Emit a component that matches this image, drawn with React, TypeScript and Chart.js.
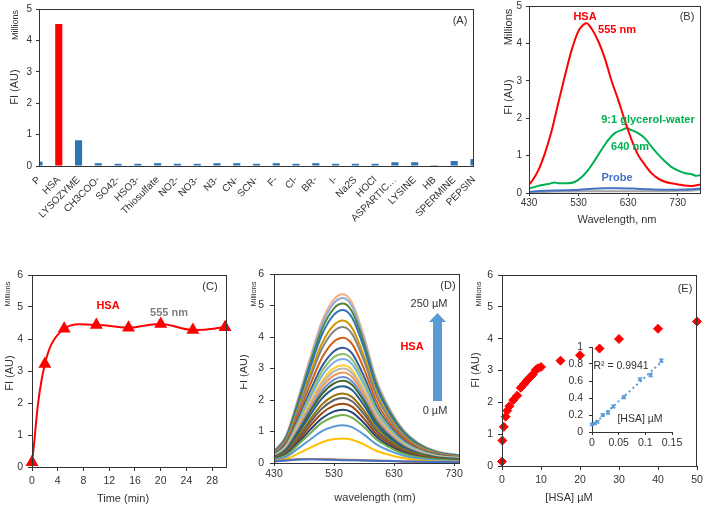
import React, { useEffect, useRef } from "react";
import { Chart, registerables } from "chart.js";
Chart.register(...registerables);

const FONT = "'Liberation Sans', Arial, Helvetica, sans-serif";
Chart.defaults.font.family = FONT;
const INK = "#333333";

// ---------- Panel A data ----------
const aCategories = ["P", "HSA", "LYSOZYME", "CH3COO-", "SO42-", "HSO3-", "Thiosulfate", "NO2-", "NO3-", "N3-", "CN-", "SCN-", "F-", "Cl-", "BR-", "I-", "Na2S", "HOCl", "ASPARTIC…", "LYSINE", "HB", "SPERMINE", "PEPSIN"];
const aValues = [0.14, 4.52, 0.82, 0.09, 0.07, 0.07, 0.09, 0.07, 0.07, 0.09, 0.09, 0.07, 0.09, 0.07, 0.09, 0.07, 0.07, 0.07, 0.12, 0.12, 0.03, 0.16, 0.22];
const aYTicks = [0, 1, 2, 3, 4, 5];

// ---------- Panel B data ----------
const bHsaWave = [430, 435, 449, 462, 476, 489, 502, 516, 529, 539, 546, 556, 570, 583, 596, 610, 623, 630, 637, 650, 664, 677, 690, 704, 717, 731, 744, 758, 776];
const bHsa = [0.23, 0.3, 0.61, 1.06, 1.68, 2.4, 3.11, 3.82, 4.31, 4.49, 4.54, 4.4, 4.05, 3.6, 3.02, 2.49, 1.95, 1.68, 1.42, 1.02, 0.75, 0.53, 0.39, 0.3, 0.26, 0.23, 0.2, 0.19, 0.23];
const bGlyWave = [430, 449, 469, 482, 489, 509, 523, 536, 549, 563, 576, 590, 603, 617, 627, 637, 650, 664, 677, 690, 704, 717, 731, 745, 758, 768, 776];
const bGly = [0.12, 0.19, 0.24, 0.28, 0.26, 0.26, 0.3, 0.42, 0.61, 0.88, 1.15, 1.42, 1.6, 1.68, 1.73, 1.68, 1.6, 1.46, 1.24, 1.04, 0.85, 0.7, 0.6, 0.53, 0.5, 0.46, 0.48];
const bProbeWave = [430, 460, 490, 520, 550, 580, 610, 640, 670, 700, 730, 760, 776];
const bProbe = [0.03, 0.06, 0.07, 0.08, 0.11, 0.13, 0.13, 0.12, 0.1, 0.09, 0.09, 0.1, 0.12];
const bBlank = [0.02, 0.03, 0.04, 0.04, 0.05, 0.05, 0.05, 0.05, 0.05, 0.05, 0.06, 0.07, 0.09];
const bXTicks = [430, 530, 630, 730];
const bYTicks = [0, 1, 2, 3, 4, 5];

// ---------- Panel C data ----------
const cTime = [0, 2, 5, 10, 15, 20, 25, 30];
const cFI = [0.15, 3.22, 4.32, 4.44, 4.35, 4.47, 4.28, 4.37];
const cXTicks = [0, 4, 8, 12, 16, 20, 24, 28];
const cYTicks = [0, 1, 2, 3, 4, 5, 6];

// ---------- Panel D data ----------
const dWave = [430, 450, 470, 490, 510, 530, 545, 560, 580, 600, 620, 645, 670, 700, 740];
const dCurves = [
  [0.05, 0.08, 0.11, 0.12, 0.11, 0.1, 0.09, 0.09, 0.08, 0.07, 0.06, 0.05, 0.04, 0.03, 0.02],
  [0.06, 0.09, 0.12, 0.13, 0.12, 0.11, 0.1, 0.1, 0.09, 0.08, 0.07, 0.05, 0.04, 0.03, 0.03],
  [0.05, 0.09, 0.12, 0.13, 0.12, 0.11, 0.1, 0.09, 0.08, 0.07, 0.06, 0.05, 0.04, 0.03, 0.02],
  [0.05, 0.12, 0.3, 0.48, 0.66, 0.76, 0.78, 0.74, 0.59, 0.39, 0.27, 0.16, 0.09, 0.05, 0.04],
  [0.08, 0.19, 0.46, 0.74, 1.01, 1.16, 1.2, 1.14, 0.9, 0.6, 0.41, 0.24, 0.14, 0.08, 0.05],
  [0.11, 0.24, 0.58, 0.94, 1.28, 1.47, 1.52, 1.44, 1.14, 0.76, 0.52, 0.3, 0.18, 0.11, 0.07],
  [0.12, 0.27, 0.64, 1.05, 1.42, 1.64, 1.69, 1.61, 1.27, 0.85, 0.57, 0.34, 0.2, 0.12, 0.08],
  [0.13, 0.3, 0.71, 1.17, 1.58, 1.82, 1.88, 1.79, 1.41, 0.94, 0.64, 0.38, 0.23, 0.13, 0.08],
  [0.14, 0.33, 0.78, 1.28, 1.73, 2.0, 2.06, 1.96, 1.55, 1.03, 0.7, 0.41, 0.25, 0.14, 0.09],
  [0.15, 0.35, 0.84, 1.37, 1.86, 2.14, 2.21, 2.1, 1.66, 1.11, 0.75, 0.44, 0.27, 0.15, 0.1],
  [0.17, 0.39, 0.93, 1.51, 2.05, 2.37, 2.44, 2.32, 1.83, 1.22, 0.83, 0.49, 0.29, 0.17, 0.11],
  [0.18, 0.42, 0.99, 1.62, 2.19, 2.53, 2.61, 2.48, 1.96, 1.31, 0.89, 0.52, 0.31, 0.18, 0.12],
  [0.19, 0.44, 1.04, 1.69, 2.29, 2.65, 2.73, 2.59, 2.05, 1.37, 0.93, 0.55, 0.33, 0.19, 0.12],
  [0.2, 0.46, 1.09, 1.78, 2.41, 2.78, 2.87, 2.73, 2.15, 1.44, 0.98, 0.57, 0.34, 0.2, 0.13],
  [0.21, 0.48, 1.14, 1.86, 2.52, 2.91, 3.0, 2.85, 2.25, 1.5, 1.02, 0.6, 0.36, 0.21, 0.14],
  [0.22, 0.5, 1.18, 1.92, 2.6, 3.01, 3.1, 2.95, 2.33, 1.55, 1.05, 0.62, 0.37, 0.22, 0.14],
  [0.23, 0.53, 1.25, 2.05, 2.77, 3.2, 3.3, 3.14, 2.48, 1.65, 1.12, 0.66, 0.4, 0.23, 0.15],
  [0.24, 0.55, 1.31, 2.15, 2.91, 3.36, 3.46, 3.29, 2.6, 1.73, 1.18, 0.69, 0.42, 0.24, 0.16],
  [0.26, 0.59, 1.39, 2.27, 3.07, 3.55, 3.66, 3.48, 2.75, 1.83, 1.24, 0.73, 0.44, 0.26, 0.16],
  [0.28, 0.64, 1.51, 2.47, 3.34, 3.86, 3.98, 3.78, 2.99, 1.99, 1.35, 0.8, 0.48, 0.28, 0.18],
  [0.3, 0.69, 1.64, 2.68, 3.63, 4.19, 4.32, 4.1, 3.24, 2.16, 1.47, 0.86, 0.52, 0.3, 0.19],
  [0.32, 0.72, 1.72, 2.8, 3.8, 4.38, 4.52, 4.29, 3.39, 2.26, 1.54, 0.9, 0.54, 0.32, 0.2],
  [0.34, 0.78, 1.85, 3.01, 4.08, 4.71, 4.86, 4.62, 3.65, 2.43, 1.65, 0.97, 0.58, 0.34, 0.22],
  [0.35, 0.81, 1.92, 3.14, 4.25, 4.91, 5.06, 4.81, 3.8, 2.53, 1.72, 1.01, 0.61, 0.35, 0.23],
  [0.37, 0.84, 1.99, 3.25, 4.4, 5.08, 5.24, 4.98, 3.93, 2.62, 1.78, 1.05, 0.63, 0.37, 0.24],
  [0.38, 0.86, 2.04, 3.32, 4.5, 5.2, 5.36, 5.09, 4.02, 2.68, 1.82, 1.07, 0.64, 0.38, 0.24],
];
const dXTicks = [430, 530, 630, 730];
const dYTicks = [0, 1, 2, 3, 4, 5, 6];

// ---------- Panel E data ----------
const eConc = [0, 0.1, 0.45, 0.94, 1.37, 1.9, 2.9, 3.9, 4.8, 5.7, 6.3, 6.8, 7.4, 7.9, 8.7, 9.2, 10, 15, 20, 25, 30, 40, 50];
const eFI = [0.14, 0.8, 1.23, 1.55, 1.74, 1.88, 2.07, 2.21, 2.46, 2.58, 2.67, 2.74, 2.81, 2.88, 3.02, 3.07, 3.11, 3.31, 3.48, 3.69, 3.99, 4.31, 4.54];
const eXTicks = [0, 10, 20, 30, 40, 50];
const eYTicks = [0, 1, 2, 3, 4, 5, 6];

// ---------- Inset data ----------
const iConc = [0, 0.005, 0.01, 0.02, 0.03, 0.04, 0.06, 0.09, 0.11, 0.13];
const iFI = [0.09, 0.1, 0.12, 0.2, 0.23, 0.3, 0.41, 0.62, 0.67, 0.84];
const iErr = [0.01, 0.01, 0.012, 0.015, 0.02, 0.015, 0.018, 0.015, 0.02, 0.018];
const iXTicks = [0, 0.05, 0.1, 0.15];
const iXTickLabels = ["0", "0.05", "0.1", "0.15"];
const iYTicks = [0, 0.2, 0.4, 0.6, 0.8, 1];
const iYTickLabels = ["0", "0.2", "0.4", "0.6", "0.8", "1"];

// ---------- styles ----------
const dColors = ["#4472C4", "#ED7D31", "#A5A5A5", "#FFC000", "#5B9BD5", "#70AD47", "#264478", "#9E480E", "#636363", "#997300", "#255E91", "#43682B", "#698ED0", "#F1975A", "#B7B7B7", "#FFCD33", "#7CAFDD", "#8CC168", "#335AA1", "#D26012", "#848484", "#CC9A00", "#2E75B6", "#548235", "#8FAADC", "#F4B183"];
const RED = "#FF0000";
const BLUE = "#2E75B6";
const GREEN = "#00B050";

type Box = { x: number; y: number; w: number; h: number };
type Area = { l: number; t: number; r: number; b: number };
type Txt = { t: string; x: number; y: number; size?: number; color?: string; bold?: boolean; rot?: boolean };

function layoutFor(box: Box, area: Area) {
  return { padding: { left: 0, top: area.t - box.y, right: box.x + box.w - area.r, bottom: 0 } };
}
function yFit(box: Box, area: Area) {
  return (s: any) => { s.width = area.l - box.x; s.paddingTop = 0; s.paddingBottom = 0; s.paddingLeft = 0; s.paddingRight = 0; };
}
function xFit(box: Box, area: Area) {
  return (s: any) => { s.height = box.y + box.h - area.b; s.paddingLeft = 0; s.paddingRight = 0; s.paddingTop = 0; s.paddingBottom = 0; };
}
function fixedTicks(vals: number[]) {
  return (s: any) => { s.ticks = vals.map((v) => ({ value: v })); };
}
function axis(size: number, tl: number, pad: number, extra: any = {}) {
  return {
    grid: { display: tl > 0, drawOnChartArea: false, drawTicks: tl > 0, tickLength: tl, color: INK, lineWidth: 1 },
    border: { display: false },
    ticks: { color: INK, font: { size, family: FONT }, padding: pad, autoSkip: false, maxRotation: 0, ...(extra.ticks || {}) },
    ...extra.rest,
  };
}

function decor(box: Box, texts: Txt[], frame: boolean, extra?: (ctx: CanvasRenderingContext2D, chart: any, ox: number, oy: number) => void) {
  return {
    id: "decor",
    afterDatasetsDraw(chart: any) {
      const ctx = chart.ctx as CanvasRenderingContext2D;
      if (extra) { ctx.save(); extra(ctx, chart, box.x, box.y); ctx.restore(); }
    },
    afterDraw(chart: any) {
      const ctx = chart.ctx as CanvasRenderingContext2D;
      const ca = chart.chartArea;
      ctx.save();
      if (frame) {
        ctx.strokeStyle = INK;
        ctx.lineWidth = 1;
        ctx.strokeRect(ca.left + 0.5, ca.top + 0.5, ca.right - ca.left - 1, ca.bottom - ca.top);
      }
      for (const it of texts) {
        ctx.save();
        ctx.font = `${it.bold ? "bold " : ""}${it.size ?? 11}px ${FONT}`;
        ctx.fillStyle = it.color ?? INK;
        ctx.textAlign = "center";
        ctx.textBaseline = "middle";
        ctx.translate(it.x - box.x, it.y - box.y);
        if (it.rot) ctx.rotate(-Math.PI / 2);
        ctx.fillText(it.t, 0, 0);
        ctx.restore();
      }
      ctx.restore();
    },
  };
}

const base = (box: Box, area: Area) => ({
  responsive: false,
  animation: false as const,
  devicePixelRatio: 1,
  layout: layoutFor(box, area),
  plugins: { legend: { display: false }, tooltip: { enabled: false } },
});

// ---------- Boxes ----------
const boxA: Box = { x: 0, y: 0, w: 480, h: 250 };
const areaA: Area = { l: 39, t: 9, r: 474, b: 166 };
const boxB: Box = { x: 480, y: 0, w: 225, h: 250 };
const areaB: Area = { l: 529, t: 6, r: 701, b: 193 };
const boxC: Box = { x: 0, y: 250, w: 240, h: 257 };
const areaC: Area = { l: 32, t: 275, r: 227, b: 467 };
const boxD: Box = { x: 240, y: 250, w: 225, h: 257 };
const areaD: Area = { l: 274, t: 274, r: 460, b: 463 };
const boxE: Box = { x: 465, y: 250, w: 240, h: 257 };
const areaE: Area = { l: 502, t: 275, r: 697, b: 466 };
const boxI: Box = { x: 555, y: 335, w: 132, h: 118 };
const areaI: Area = { l: 592, t: 347, r: 672, b: 432 };

function buildA(c: HTMLCanvasElement) {
  return new Chart(c, {
    type: "bar",
    data: {
      labels: aCategories,
      datasets: [{ data: aValues, backgroundColor: aCategories.map((k) => (k === "HSA" ? RED : BLUE)), barPercentage: 0.36, categoryPercentage: 1 }],
    },
    options: {
      ...base(boxA, areaA),
      scales: {
        x: {
          offset: false,
          grid: { display: false, drawTicks: false },
          border: { display: false },
          ticks: { color: INK, font: { size: 10, family: FONT }, autoSkip: false, minRotation: 45, maxRotation: 45, padding: 8 },
          afterFit: xFit(boxA, areaA),
        },
        y: { min: 0, max: 5, ...axis(10, 3, 4), afterBuildTicks: fixedTicks(aYTicks), afterFit: yFit(boxA, areaA) },
      },
    } as any,
    plugins: [decor(boxA, [
      { t: "Millions", x: 16, y: 25, size: 9, rot: true },
      { t: "FI (AU)", x: 15, y: 87, size: 11, rot: true },
      { t: "(A)", x: 460, y: 21, size: 11 },
    ], true)],
  });
}

const pts = (xs: number[], ys: number[]) => xs.map((x, i) => ({ x, y: ys[i] }));

function buildB(c: HTMLCanvasElement) {
  const line = (data: any, color: string) => ({ data, borderColor: color, borderWidth: 2, pointRadius: 0, tension: 0.35, cubicInterpolationMode: "monotone" });
  return new Chart(c, {
    type: "line",
    data: {
      datasets: [
        line(pts(bHsaWave, bHsa), RED),
        line(pts(bGlyWave, bGly), GREEN),
        line(pts(bProbeWave, bProbe), "#4472C4"),
        line(pts(bProbeWave, bBlank), "#A5A5A5"),
      ] as any,
    },
    options: {
      ...base(boxB, areaB),
      scales: {
        x: { type: "linear", min: 430, max: 777, ...axis(10, 3, 1), afterBuildTicks: fixedTicks(bXTicks), afterFit: xFit(boxB, areaB) },
        y: { min: 0, max: 5, ...axis(10, 3, 4), afterBuildTicks: fixedTicks(bYTicks), afterFit: yFit(boxB, areaB) },
      },
    } as any,
    plugins: [decor(boxB, [
      { t: "Millions", x: 509, y: 27, size: 11, rot: true },
      { t: "FI (AU)", x: 509, y: 97, size: 11, rot: true },
      { t: "Wavelength, nm", x: 617, y: 220, size: 11 },
      { t: "HSA", x: 585, y: 17, size: 11, bold: true, color: RED },
      { t: "555 nm", x: 617, y: 30, size: 11, bold: true, color: RED },
      { t: "(B)", x: 687, y: 17, size: 11 },
      { t: "9:1 glycerol-water", x: 648, y: 120, size: 11, bold: true, color: GREEN },
      { t: "640 nm", x: 630, y: 147, size: 11, bold: true, color: GREEN },
      { t: "Probe", x: 617, y: 178, size: 11, bold: true, color: "#4472C4" },
    ], true)],
  });
}

function buildC(c: HTMLCanvasElement) {
  return new Chart(c, {
    type: "line",
    data: {
      datasets: [{
        data: pts(cTime, cFI), borderColor: RED, borderWidth: 2, tension: 0.4,
        pointStyle: "triangle", pointRadius: 5.5, pointBackgroundColor: RED, pointBorderColor: RED, clip: false,
      }] as any,
    },
    options: {
      ...base(boxC, areaC),
      scales: {
        x: { type: "linear", min: 0, max: 30.3, ...axis(10.5, 4, 4), afterBuildTicks: fixedTicks(cXTicks), afterFit: xFit(boxC, areaC) },
        y: { min: 0, max: 6, ...axis(10.5, 4, 5), afterBuildTicks: fixedTicks(cYTicks), afterFit: yFit(boxC, areaC) },
      },
    } as any,
    plugins: [decor(boxC, [
      { t: "Millions", x: 8, y: 294, size: 7.5, rot: true },
      { t: "FI (AU)", x: 10, y: 373, size: 11, rot: true },
      { t: "Time (min)", x: 123, y: 499, size: 11 },
      { t: "(C)", x: 210, y: 287, size: 11 },
      { t: "HSA", x: 108, y: 306, size: 11, bold: true, color: RED },
      { t: "555 nm", x: 169, y: 313, size: 11, bold: true, color: "#7F7F7F" },
    ], true)],
  });
}

function buildD(c: HTMLCanvasElement) {
  return new Chart(c, {
    type: "line",
    data: {
      datasets: dCurves.map((row, k) => ({
        data: pts(dWave, row), borderColor: dColors[k % dColors.length], borderWidth: 2, pointRadius: 0,
        tension: 0.4, cubicInterpolationMode: "monotone",
      })) as any,
    },
    options: {
      ...base(boxD, areaD),
      scales: {
        x: { type: "linear", min: 430, max: 740, ...axis(10.5, 3, 2), afterBuildTicks: fixedTicks(dXTicks), afterFit: xFit(boxD, areaD) },
        y: { min: 0, max: 6, ...axis(10.5, 4, 6), afterBuildTicks: fixedTicks(dYTicks), afterFit: yFit(boxD, areaD) },
      },
    } as any,
    plugins: [decor(boxD, [
      { t: "Millions", x: 254, y: 294, size: 7.5, rot: true },
      { t: "FI (AU)", x: 244, y: 372, size: 11, rot: true },
      { t: "wavelength (nm)", x: 375, y: 498, size: 11 },
      { t: "(D)", x: 448, y: 286, size: 11 },
      { t: "250 µM", x: 429, y: 304, size: 11 },
      { t: "HSA", x: 412, y: 347, size: 11, bold: true, color: RED },
      { t: "0 µM", x: 435, y: 411, size: 11 },
    ], true, (ctx, _chart, ox, oy) => {
      ctx.fillStyle = "#5B9BD5";
      ctx.fillRect(433 - ox, 322 - oy, 9, 79);
      ctx.beginPath();
      ctx.moveTo(429 - ox, 322 - oy);
      ctx.lineTo(446 - ox, 322 - oy);
      ctx.lineTo(437.5 - ox, 313 - oy);
      ctx.closePath();
      ctx.fill();
    })],
  });
}

function buildE(c: HTMLCanvasElement) {
  return new Chart(c, {
    type: "scatter",
    data: {
      datasets: [{
        data: pts(eConc, eFI), pointStyle: "rectRot", pointRadius: 4.5, pointBackgroundColor: RED, pointBorderColor: RED, clip: false,
      }] as any,
    },
    options: {
      ...base(boxE, areaE),
      scales: {
        x: { type: "linear", min: 0, max: 50, ...axis(10.5, 4, 4), afterBuildTicks: fixedTicks(eXTicks), afterFit: xFit(boxE, areaE) },
        y: { min: 0, max: 6, ...axis(10.5, 4, 5), afterBuildTicks: fixedTicks(eYTicks), afterFit: yFit(boxE, areaE) },
      },
    } as any,
    plugins: [decor(boxE, [
      { t: "Millions", x: 479, y: 294, size: 7.5, rot: true },
      { t: "FI (AU)", x: 476, y: 370, size: 11, rot: true },
      { t: "[HSA] µM", x: 569, y: 498, size: 11 },
      { t: "(E)", x: 685, y: 289, size: 11 },
    ], true)],
  });
}

function buildI(c: HTMLCanvasElement) {
  const n = iConc.length;
  const sx = iConc.reduce((a, b) => a + b, 0);
  const sy = iFI.reduce((a, b) => a + b, 0);
  const sxx = iConc.reduce((a, b) => a + b * b, 0);
  const sxy = iConc.reduce((a, b, i) => a + b * iFI[i], 0);
  const slope = (n * sxy - sx * sy) / (n * sxx - sx * sx);
  const icpt = (sy - slope * sx) / n;
  const xEnd = iConc[n - 1];
  return new Chart(c, {
    type: "scatter",
    data: {
      datasets: [
        { data: pts(iConc, iFI), pointStyle: "crossRot", pointRadius: 2.5, borderWidth: 1.5, pointBorderColor: "#5B9BD5", clip: false },
        { type: "line", data: [{ x: 0, y: icpt }, { x: xEnd, y: icpt + slope * xEnd }], borderColor: "#5B9BD5", borderWidth: 2, borderDash: [2, 3], pointRadius: 0, showLine: true },
      ] as any,
    },
    options: {
      ...base(boxI, areaI),
      scales: {
        x: {
          type: "linear", min: 0, max: 0.15, ...axis(10.5, 3, 2, { ticks: { callback: (v: number) => iXTickLabels[iXTicks.indexOf(v)] ?? "" } }),
          border: { display: true, color: INK }, afterBuildTicks: fixedTicks(iXTicks), afterFit: xFit(boxI, areaI),
        },
        y: {
          min: 0, max: 1, ...axis(10.5, 3, 6, { ticks: { callback: (v: number) => iYTickLabels[iYTicks.indexOf(v)] ?? "" } }),
          border: { display: true, color: INK }, afterBuildTicks: fixedTicks(iYTicks), afterFit: yFit(boxI, areaI),
        },
      },
    } as any,
    plugins: [decor(boxI, [
      { t: "R² = 0.9941", x: 621, y: 366, size: 10.5 },
      { t: "[HSA] µM", x: 640, y: 419, size: 10.5 },
    ], false, (ctx, chart) => {
      const xs = chart.scales.x, ys = chart.scales.y;
      ctx.strokeStyle = "#5B9BD5";
      ctx.lineWidth = 1;
      iConc.forEach((x, i) => {
        const px = xs.getPixelForValue(x);
        const y1 = ys.getPixelForValue(iFI[i] + iErr[i]);
        const y2 = ys.getPixelForValue(iFI[i] - iErr[i]);
        ctx.beginPath();
        ctx.moveTo(px, y1); ctx.lineTo(px, y2);
        ctx.moveTo(px - 2, y1); ctx.lineTo(px + 2, y1);
        ctx.moveTo(px - 2, y2); ctx.lineTo(px + 2, y2);
        ctx.stroke();
      });
    })],
  });
}

function ChartCanvas({ box, build }: { box: Box; build: (c: HTMLCanvasElement) => Chart }) {
  const ref = useRef<HTMLCanvasElement | null>(null);
  useEffect(() => {
    const chart = build(ref.current!);
    return () => chart.destroy();
  }, []);
  return (
    <canvas ref={ref} width={box.w} height={box.h}
      style={{ position: "absolute", left: box.x, top: box.y, width: box.w, height: box.h }} />
  );
}

export default function App() {
  return (
    <div style={{ position: "absolute", left: 0, top: 0, width: 705, height: 507, background: "#fff", overflow: "hidden" }}>
      <ChartCanvas box={boxA} build={buildA} />
      <ChartCanvas box={boxB} build={buildB} />
      <ChartCanvas box={boxC} build={buildC} />
      <ChartCanvas box={boxD} build={buildD} />
      <ChartCanvas box={boxE} build={buildE} />
      <ChartCanvas box={boxI} build={buildI} />
    </div>
  );
}
